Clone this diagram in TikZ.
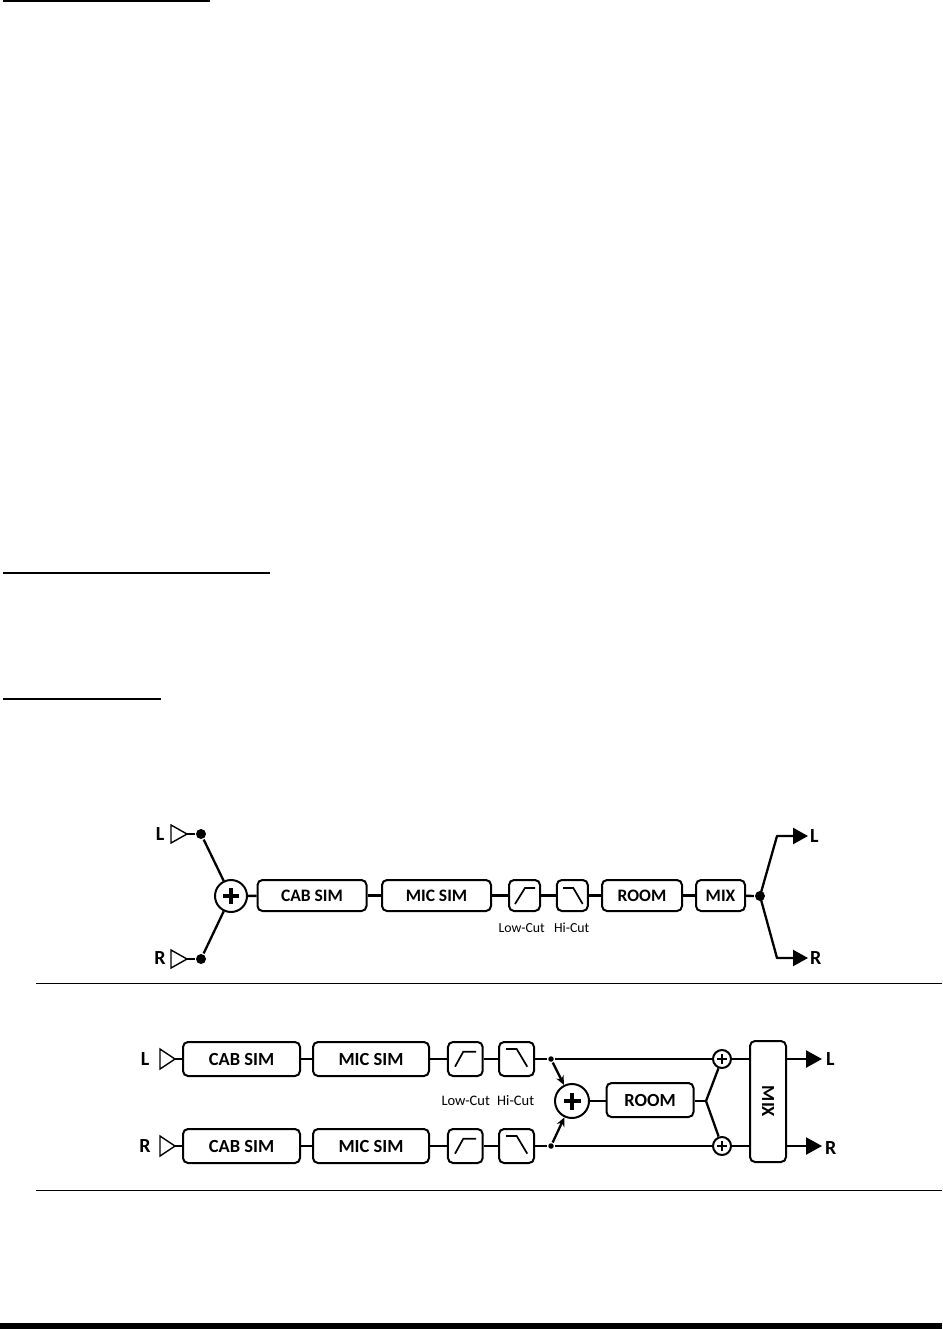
\documentclass[tikz,border=0pt]{standalone}
\usepackage{fontspec}
\setmainfont{Carlito}
\usetikzlibrary{arrows.meta}
\begin{document}
\begin{tikzpicture}[x=1pt,y=-1pt,line width=2.3pt,
  box/.style={draw,rounded corners=5pt,line width=2pt,inner sep=0pt,
    font=\bfseries\fontsize{17.5}{17.5}\selectfont},
  boxb/.style={box,font=\bfseries\fontsize{18.5}{18.5}\selectfont},
  lbl/.style={font=\bfseries\fontsize{20}{20}\selectfont,inner sep=0pt},
  flbl/.style={font=\fontsize{13.8}{13.8}\selectfont,inner sep=0pt},
  flblb/.style={font=\fontsize{14.5}{14.5}\selectfont,inner sep=0pt},
  dotn/.style={circle,fill,inner sep=0pt,minimum size=10pt},
  sdot/.style={circle,fill,inner sep=0pt,minimum size=5.5pt},
  sumn/.style={circle,draw,line width=2pt,inner sep=0pt,minimum size=32pt},
  ssum/.style={circle,draw,line width=2pt,inner sep=0pt,minimum size=18pt},
  intri/.style={line width=1.4pt,line join=miter},
  outarrow/.style={-{Triangle[length=15pt,width=16pt]}},
  sumarrow/.style={-{Stealth[length=9pt,width=8pt]}}
]
\useasboundingbox (0,0) rectangle (942,1329);

% header rules
\fill (3,0) rectangle (210,2.3);
\fill (3,572) rectangle (270,574.2);
\fill (3,698.3) rectangle (161,700);
\fill (0,1323) rectangle (942,1329);

% ================= top diagram =================
\node[lbl] (tL) at (160,834) {L};
\node[lbl] (tR) at (160,958) {R};
\draw[intri] (171,825) -- (187,834) -- (171,843) -- cycle;
\draw[intri] (171,950) -- (187,959) -- (171,968) -- cycle;
\coordinate (tLin) at (187,834);
\coordinate (tRin) at (187,959);
\node[dotn] (dL) at (201,834) {};
\node[dotn] (dR) at (201,959) {};
\node[sumn] (tsum) at (231,896) {};
\draw[line width=4.2pt] ([xshift=-8pt]tsum.center) -- ([xshift=8pt]tsum.center);
\draw[line width=4.2pt] ([yshift=-8pt]tsum.center) -- ([yshift=8pt]tsum.center);

\node[box,minimum width=109pt,minimum height=31pt] (tcab) at (312,895.5) {CAB SIM};
\node[box,minimum width=109pt,minimum height=31pt] (tmic) at (436.5,895.5) {MIC SIM};
\node[box,minimum width=31pt,minimum height=31pt] (tlow) at (524.5,895.5) {};
\node[box,minimum width=31pt,minimum height=31pt] (thi) at (572.3,895.5) {};
\node[box,minimum width=80pt,minimum height=31pt] (troom) at (642,895.5) {ROOM};
\node[box,minimum width=49pt,minimum height=31pt] (tmix) at (720.5,895.5) {MIX};
\node[dotn] (tout) at (760,896) {};

\draw[line width=1.7pt] ([xshift=-9.5pt,yshift=-8.5pt]tlow.center) -- ([xshift=0.5pt,yshift=7.5pt]tlow.center) -- ([xshift=10.5pt,yshift=7.5pt]tlow.center);
\draw[line width=1.7pt] ([xshift=-9.3pt,yshift=7.5pt]thi.center) -- ([xshift=1pt,yshift=7.5pt]thi.center) -- ([xshift=10.4pt,yshift=-8.5pt]thi.center);

\node[flbl] (tlowl) at (521.7,928) {Low-Cut};
\node[flbl] (thil) at (571.7,928) {Hi-Cut};

\draw (tLin) -- (dL);
\draw (tRin) -- (dR);
\draw (dL) -- (tsum);
\draw (dR) -- (tsum);
\draw (tsum) -- (tcab);
\draw (tcab) -- (tmic);
\draw (tmic) -- (tlow);
\draw (tlow) -- (thi);
\draw (thi) -- (troom);
\draw (troom) -- (tmix);
\draw (tmix) -- (tout);

\coordinate (tca) at (777,836);
\coordinate (tcb) at (777,958);
\coordinate (tta) at (808,836);
\coordinate (ttb) at (808,958);
\draw[outarrow,line join=round] (tout.center) -- (tca) -- (tta);
\draw[outarrow,line join=round] (tout.center) -- (tcb) -- (ttb);
\node[lbl,anchor=west] (tLo) at (809,836) {L};
\node[lbl,anchor=west] (tRo) at (809,958) {R};

% separators
\draw[line width=1.2pt] (36,983.5) -- (942,983.5);
\draw[line width=1.2pt] (36,1190.5) -- (942,1190.5);

% ================= bottom diagram =================
\node[lbl] (bL) at (145,1059) {L};
\node[lbl] (bR) at (145,1146) {R};
\draw[intri] (160,1049) -- (175,1059) -- (160,1069) -- cycle;
\draw[intri] (160,1136) -- (175,1146) -- (160,1156) -- cycle;
\coordinate (bLin) at (175,1059);
\coordinate (bRin) at (175,1146);

\foreach \r/\y in {L/1059,R/1146}{
  \node[boxb,minimum width=117pt,minimum height=34pt] (bcab\r) at (241.5,\y) {CAB SIM};
  \node[boxb,minimum width=116pt,minimum height=34pt] (bmic\r) at (371,\y) {MIC SIM};
  \node[box,minimum width=34.7pt,minimum height=34pt] (blow\r) at (465.3,\y) {};
  \node[box,minimum width=35pt,minimum height=34pt] (bhi\r) at (516.5,\y) {};
  \node[sdot] (bd\r) at (551,\y) {};
  \node[ssum] (bs\r) at (722,\y) {};
  \draw[line width=2.8pt] ([xshift=-5pt]bs\r.center) -- ([xshift=5pt]bs\r.center);
  \draw[line width=2.8pt] ([yshift=-5pt]bs\r.center) -- ([yshift=5pt]bs\r.center);
  \draw[line width=1.7pt] ([xshift=-10.3pt,yshift=-7.7pt]blow\r.center) -- ([xshift=-2pt,yshift=7.3pt]blow\r.center) -- ([xshift=10.7pt,yshift=7.3pt]blow\r.center);
  \draw[line width=1.7pt] ([xshift=-10.5pt,yshift=10pt]bhi\r.center) -- ([xshift=0.2pt,yshift=10pt]bhi\r.center) -- ([xshift=10.8pt,yshift=-7.7pt]bhi\r.center);
  \draw (bcab\r) -- (bmic\r);
  \draw (bmic\r) -- (blow\r);
  \draw (blow\r) -- (bhi\r);
  \draw (bhi\r) -- (bd\r);
  \draw (bd\r) -- (bs\r);
}
\draw (bLin) -- (bcabL);
\draw (bRin) -- (bcabR);

\node[sumn,minimum size=34pt] (bsum) at (572,1101) {};
\draw[line width=4.4pt] ([xshift=-8.5pt]bsum.center) -- ([xshift=8.5pt]bsum.center);
\draw[line width=4.4pt] ([yshift=-8.5pt]bsum.center) -- ([yshift=8.5pt]bsum.center);
\draw[sumarrow] (bdL) -- (bsum);
\draw[sumarrow] (bdR) -- (bsum);

\node[flblb] (blowl) at (465.7,1101) {Low-Cut};
\node[flblb] (bhil) at (515.7,1101) {Hi-Cut};

\node[boxb,minimum width=87pt,minimum height=34pt] (broom) at (650,1100) {ROOM};
\coordinate (bj) at (706,1101);
\draw (bsum) -- (bsum -| broom.west);
\draw (broom.east |- bj) -- (bj);
\draw (bj) -- (bsL);
\draw (bj) -- (bsR);

\node[boxb,minimum width=36pt,minimum height=121pt] (bmix) at (768,1101.5) {};
\node[lbl,font=\bfseries\fontsize{18.5}{18.5}\selectfont,rotate=-90] (bmixt) at (bmix.center) {MIX};
\draw (bsL) -- (bsL -| bmix.west);
\draw (bsR) -- (bsR -| bmix.west);
\coordinate (boL) at (822,1059);
\coordinate (boR) at (822,1146);
\draw[-{Triangle[length=16pt,width=17pt]}] (bmix.east |- boL) -- (boL);
\draw[-{Triangle[length=16pt,width=17pt]}] (bmix.east |- boR) -- (boR);
\node[lbl,anchor=west] (bLo) at (825,1059) {L};
\node[lbl,anchor=west] (bRo) at (824,1148) {R};
\end{tikzpicture}
\end{document}
